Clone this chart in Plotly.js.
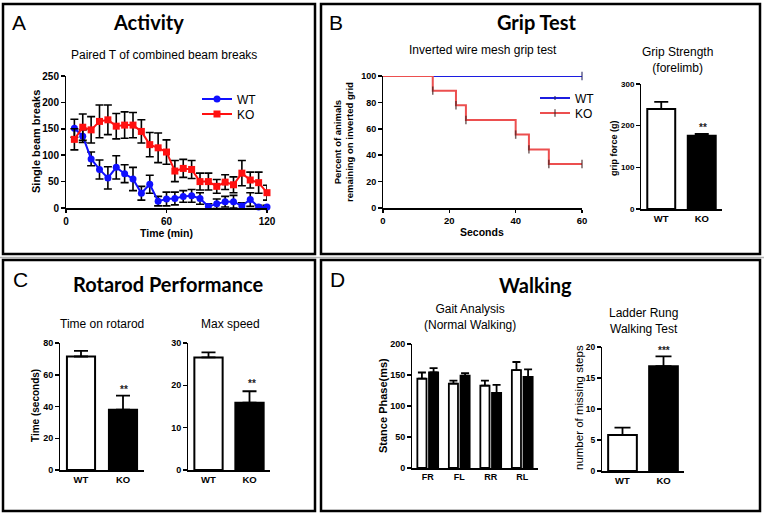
<!DOCTYPE html>
<html>
<head>
<meta charset="utf-8">
<script src="https://cdn.plot.ly/plotly-3.0.1.min.js"></script>
<style>html,body{margin:0;padding:0;background:#fff;}#chart{width:764px;height:515px;}</style>
</head>
<body>
<div id="chart"></div>
<script>
// ---------- DATA ----------
const timeMin = [5,10,15,20,25,30,35,40,45,50,55,60,65,70,75,80,85,90,95,100,105,110,115,120];
const wtBeam    = [151,136,93,73,57,77,65,55,28,45,13,17,18,22,23,18,3,8,12,12,4,16,2,2];
const wtBeamErr = [17,12,13,18,21,22,17,22,13,17,9,13,12,11,12,11,5,9,10,12,6,13,3,3];
const koBeam    = [130,153,148,164,167,155,157,157,145,120,114,106,70,75,73,50,50,41,49,44,66,53,48,29];
const koBeamErr = [20,25,25,31,28,24,25,24,22,23,28,23,20,17,17,16,16,13,14,15,24,15,20,14];

const kmWtTime = [0,60];
const kmWtPct  = [100,100];
const kmKoTime = [0,15,22,25,40,44,50,60];
const kmKoPct  = [100,88.9,77.8,66.7,55.6,44.4,33.3,33.3];

const groups = ['WT','KO'];
const gripForce = [240,176];
const gripErr   = [17,4];

const rotaTime    = [71.5,38];
const rotaTimeErr = [3.6,8.8];
const maxSpeed    = [26.6,15.9];
const maxSpeedErr = [1.2,2.7];

const legs = ['FR','FL','RR','RL'];
const gaitWT    = [144,136,133,158];
const gaitWTErr = [10,5,8,13];
const gaitKO    = [154,149,121,147];
const gaitKOErr = [7,4,13,12];

const ladderSteps = [5.8,16.9];
const ladderErr   = [1.2,1.6];

// ---------- LAYOUT HELPERS ----------
const W = 764, H = 515;
const px = x => x / W;
const py = y => 1 - y / H;
const ARIAL = 'Liberation Sans, Arial, sans-serif';
const TITLEF = 'Lato, Open Sans, sans-serif';

function axis(extra, fs) {
  return Object.assign({
    showline: true, linecolor: 'black', linewidth: 1.5,
    ticks: 'outside', ticklen: 3.5, tickwidth: 1.5, tickcolor: 'black',
    showgrid: false, zeroline: false, fixedrange: true,
    tickfont: {family: ARIAL, size: fs || 10, weight: 'bold', color: 'black'}
  }, extra);
}
function catAxis(extra, fs) {
  return axis(Object.assign({type: 'category', ticks: '', range: [-0.5, 1.5]}, extra), fs || 9.5);
}
function ann(text, x, y, o) {
  o = o || {};
  return {
    text: text, x: px(x), y: py(y), xref: 'paper', yref: 'paper',
    xanchor: o.xanchor || 'center', yanchor: 'middle', showarrow: false,
    textangle: o.angle || 0,
    font: {family: o.family || ARIAL, size: o.size || 12, color: o.color || 'black', weight: o.weight || 'normal'}
  };
}
function leg(x, y) {
  return {x: px(x), y: py(y), xanchor: 'left', yanchor: 'middle', bgcolor: 'rgba(0,0,0,0)',
          font: {family: ARIAL, size: 12, color: 'black'}, itemwidth: 30};
}
const zeros2 = [0,0];
const zeros4 = [0,0,0,0];
function barErr(arr, minus, w) {
  return {type: 'data', symmetric: false, array: arr, arrayminus: minus, color: 'black', thickness: 1.8, width: w};
}

// ---------- TRACES ----------
const traces = [
  {x: timeMin, y: wtBeam, name: 'WT', type: 'scatter', mode: 'lines+markers', xaxis: 'x', yaxis: 'y',
   line: {color: '#1010ff', width: 2}, marker: {symbol: 'circle', size: 7, color: '#1010ff'},
   error_y: {type: 'data', array: wtBeamErr, color: 'black', thickness: 1.6, width: 4}, cliponaxis: false, legend: 'legend'},
  {x: timeMin, y: koBeam, name: 'KO', type: 'scatter', mode: 'lines+markers', xaxis: 'x', yaxis: 'y',
   line: {color: '#ff1010', width: 2}, marker: {symbol: 'square', size: 7, color: '#ff1010'},
   error_y: {type: 'data', array: koBeamErr, color: 'black', thickness: 1.6, width: 4}, cliponaxis: false, legend: 'legend3'},

  {x: kmWtTime, y: kmWtPct, name: 'WT', type: 'scatter', mode: 'lines+markers', xaxis: 'x2', yaxis: 'y2',
   line: {color: '#1c1ce0', width: 2, shape: 'hv'},
   marker: {symbol: 'line-ns', size: [0,6], line: {color: '#202060', width: 1.5}}, cliponaxis: false, legend: 'legend2'},
  {x: kmKoTime, y: kmKoPct, name: 'KO', type: 'scatter', mode: 'lines+markers', xaxis: 'x2', yaxis: 'y2',
   line: {color: '#ec4f4f', width: 2, shape: 'hv'},
   marker: {symbol: 'line-ns', size: [0,6,6,6,6,6,6,6], line: {color: '#402020', width: 1.5}}, cliponaxis: false, legend: 'legend4'},

  {x: groups, y: gripForce, type: 'bar', xaxis: 'x3', yaxis: 'y3', width: 0.69, showlegend: false,
   marker: {color: ['white','black'], line: {color: 'black', width: 2}}, error_y: barErr(gripErr, zeros2, 7), cliponaxis: false},
  {x: groups, y: rotaTime, type: 'bar', xaxis: 'x4', yaxis: 'y4', width: 0.67, showlegend: false,
   marker: {color: ['white','black'], line: {color: 'black', width: 2}}, error_y: barErr(rotaTimeErr, zeros2, 7), cliponaxis: false},
  {x: groups, y: maxSpeed, type: 'bar', xaxis: 'x5', yaxis: 'y5', width: 0.69, showlegend: false,
   marker: {color: ['white','black'], line: {color: 'black', width: 2}}, error_y: barErr(maxSpeedErr, zeros2, 7), cliponaxis: false},
  {x: legs, y: gaitWT, type: 'bar', xaxis: 'x6', yaxis: 'y6', offset: -0.33, width: 0.29, showlegend: false,
   marker: {color: 'white', line: {color: 'black', width: 1.8}}, error_y: barErr(gaitWTErr, zeros4, 4), cliponaxis: false},
  {x: legs, y: gaitKO, type: 'bar', xaxis: 'x6', yaxis: 'y6', offset: 0.04, width: 0.29, showlegend: false,
   marker: {color: 'black', line: {color: 'black', width: 1.8}}, error_y: barErr(gaitKOErr, zeros4, 4), cliponaxis: false},
  {x: groups, y: ladderSteps, type: 'bar', xaxis: 'x7', yaxis: 'y7', width: 0.7, showlegend: false,
   marker: {color: ['white','black'], line: {color: 'black', width: 2}}, error_y: barErr(ladderErr, zeros2, 8), cliponaxis: false}
];

// ---------- LAYOUT ----------
const boxLine = {color: 'black', width: 2.5};
const layout = {
  width: W, height: H, margin: {l: 0, r: 0, t: 0, b: 0},
  paper_bgcolor: 'white', plot_bgcolor: 'rgba(0,0,0,0)',
  barmode: 'overlay', showlegend: true,
  font: {family: ARIAL, color: 'black'},
  xaxis:  axis({domain: [px(66), px(267)], range: [0,120], tickvals: [0,60,120], anchor: 'y'}, 10),
  yaxis:  axis({domain: [py(208), py(76)], range: [0,250], dtick: 50, anchor: 'x'}, 10),
  xaxis2: axis({domain: [px(383), px(582)], range: [0,60], dtick: 20, anchor: 'y2'}, 9.5),
  yaxis2: axis({domain: [py(208), py(76)], range: [0,100], dtick: 20, anchor: 'x2'}, 9),
  xaxis3: catAxis({domain: [px(641), px(722)], anchor: 'y3'}, 9.5),
  yaxis3: axis({domain: [py(209), py(84)], range: [0,300], dtick: 100, anchor: 'x3'}, 8),
  xaxis4: catAxis({domain: [px(60), px(144)], anchor: 'y4'}, 9.5),
  yaxis4: axis({domain: [py(470), py(343)], range: [0,80], dtick: 20, anchor: 'x4'}, 9),
  xaxis5: catAxis({domain: [px(188), px(270)], anchor: 'y5'}, 9.5),
  yaxis5: axis({domain: [py(470), py(343)], range: [0,30], dtick: 10, anchor: 'x5'}, 9),
  xaxis6: catAxis({domain: [px(412), px(538)], range: [-0.5,3.5], anchor: 'y6'}, 9),
  yaxis6: axis({domain: [py(468), py(344)], range: [0,200], dtick: 50, anchor: 'x6'}, 9),
  xaxis7: catAxis({domain: [px(602), px(684)], anchor: 'y7'}, 9.5),
  yaxis7: axis({domain: [py(471), py(347)], range: [0,20], dtick: 5, anchor: 'x7'}, 8.5),
  legend:  leg(197, 99),
  legend3: leg(197, 114),
  legend2: leg(535, 98),
  legend4: leg(535, 113),
  shapes: [
    {type: 'line', xref: 'paper', yref: 'paper', x0: 0, x1: 1, y0: py(257.5), y1: py(257.5), line: {color: '#b0b0b0', width: 1.5}},
    {type: 'rect', xref: 'paper', yref: 'paper', x0: px(3), x1: px(315), y0: py(254), y1: py(4), line: boxLine},
    {type: 'rect', xref: 'paper', yref: 'paper', x0: px(321), x1: px(760), y0: py(254), y1: py(4), line: boxLine},
    {type: 'rect', xref: 'paper', yref: 'paper', x0: px(3), x1: px(315), y0: py(511), y1: py(260), line: boxLine},
    {type: 'rect', xref: 'paper', yref: 'paper', x0: px(321), x1: px(760), y0: py(511), y1: py(260), line: boxLine}
  ],
  annotations: [
    ann('A', 19, 22, {size: 21}),
    ann('Activity', 148, 22, {family: TITLEF, size: 20, weight: 'bold'}),
    ann('Paired T of combined beam breaks', 164, 55, {size: 12}),
    ann('Single beam breaks', 36, 142, {size: 11, weight: 'bold', angle: -90}),
    ann('Time (min)', 166, 233, {size: 10.5, weight: 'bold'}),

    ann('B', 336, 22, {size: 21}),
    ann('Grip Test', 537, 22, {family: TITLEF, size: 20, weight: 'bold'}),
    ann('Inverted wire mesh grip test', 483, 50, {size: 12}),
    ann('Percent of animals<br>remaining on inverted grid', 343, 142, {size: 9.5, weight: 'bold', angle: -90}),
    ann('Seconds', 482, 232, {size: 10.5, weight: 'bold'}),
    ann('Grip Strength<br>(forelimb)', 677, 60, {size: 12}),
    ann('grip force (g)', 614, 148, {size: 9, weight: 'bold', angle: -90}),
    ann('**', 703, 128, {size: 10, weight: 'bold', color: '#222'}),

    ann('C', 20, 279, {size: 21}),
    ann('Rotarod Performance', 168, 284, {family: TITLEF, size: 20, weight: 'bold'}),
    ann('Time on rotarod', 102, 324, {size: 12}),
    ann('Max speed', 230, 324, {size: 12}),
    ann('Time (seconds)', 35, 406, {size: 10, weight: 'bold', angle: -90}),
    ann('**', 124, 389, {size: 10, weight: 'bold', color: '#222'}),
    ann('**', 252, 383, {size: 10, weight: 'bold', color: '#222'}),

    ann('D', 337, 279, {size: 21}),
    ann('Walking', 535, 285, {family: TITLEF, size: 20, weight: 'bold'}),
    ann('Gait Analysis<br>(Normal Walking)', 470, 317, {size: 12}),
    ann('Stance Phase(ms)', 383, 406, {size: 11, weight: 'bold', angle: -90}),
    ann('Ladder Rung<br>Walking Test', 643, 321, {size: 12}),
    ann('number of missing steps', 579, 408, {size: 11.5, angle: -90}),
    ann('***', 664, 350, {size: 10, weight: 'bold', color: '#222'})
  ]
};

Plotly.newPlot('chart', traces, layout, {staticPlot: true, displayModeBar: false});
</script>
</body>
</html>
